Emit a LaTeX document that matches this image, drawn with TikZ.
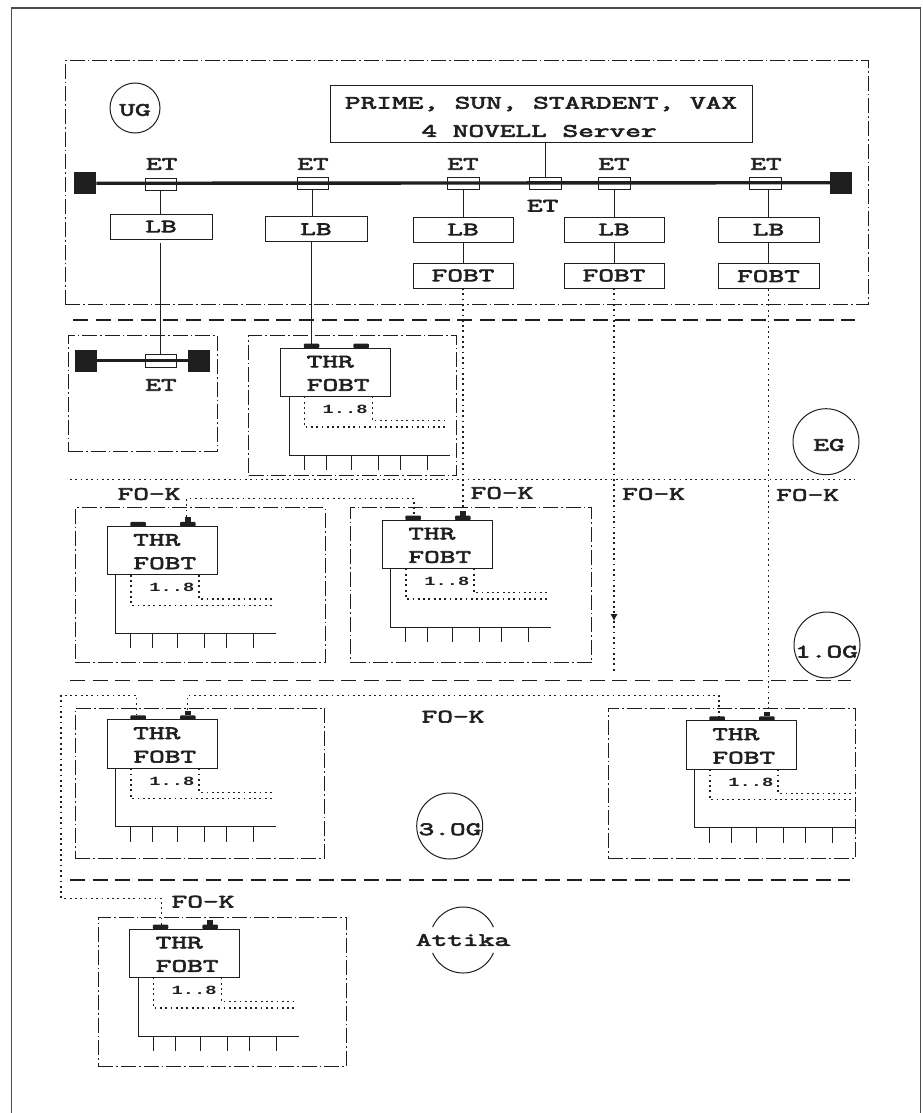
\documentclass[tikz,border=0pt]{standalone}
\usepackage{fontspec}
\usetikzlibrary{arrows.meta}
\newfontfamily\lblfont[FakeStretch=1.62,FakeBold=3.5]{Latin Modern Mono}
\newfontfamily\smlfont[FakeStretch=1.5]{Liberation Mono}
\definecolor{ink}{gray}{0.12}
\tikzset{
  x=1pt,y=-1pt,
  lbl/.style={inner sep=0pt,outer sep=0pt,text=ink,font=\lblfont\fontsize{18.8}{18.8}\selectfont},
  sml/.style={inner sep=0pt,outer sep=0pt,text=ink,font=\smlfont\bfseries\fontsize{12.5}{12.5}\selectfont},
  solid line/.style={draw=ink,line width=1pt},
  boxn/.style={draw=ink,line width=1pt,inner sep=0pt,outer sep=0pt,anchor=center,text=ink,font=\lblfont\fontsize{18.8}{18.8}\selectfont},
  dashdot/.style={draw=ink,line width=1pt,dash pattern=on 15pt off 3pt on 1.6pt off 3pt},
  dotline/.style={draw=ink,line width=1.2pt,dash pattern=on 1.8pt off 3.5pt},
  longdash/.style={draw=ink,line width=1.1pt,dash pattern=on 15pt off 7.6pt},
  termin/.style={fill=ink,draw=none,inner sep=0pt,outer sep=0pt,minimum width=22pt,minimum height=22pt},
  portn/.style={fill=ink,draw=none,rounded corners=1pt,inner sep=0pt,outer sep=0pt,minimum width=15.5pt,minimum height=4.6pt},
  nubn/.style={fill=ink,draw=none,inner sep=0pt,outer sep=0pt,minimum width=6.5pt,minimum height=4.5pt},
  ringn/.style={circle,draw=ink,line width=1pt,inner sep=0pt,outer sep=0pt},
  bus/.style={draw=ink,line width=3.4pt},
}
% name, x1, y1, x2, y2, text
\newcommand{\rectnode}[6]{%
  \pgfmathsetmacro{\rw}{#4-#2}\pgfmathsetmacro{\rh}{#5-#3}%
  \pgfmathsetmacro{\rx}{(#4+#2)/2}\pgfmathsetmacro{\ry}{(#5+#3)/2}%
  \node[boxn,minimum width=\rw pt,minimum height=\rh pt] (#1) at (\rx,\ry) {#6};}
% dash-dotted area: name, x1, y1, x2, y2
\newcommand{\areanode}[5]{%
  \pgfmathsetmacro{\rw}{#4-#2}\pgfmathsetmacro{\rh}{#5-#3}%
  \pgfmathsetmacro{\rx}{(#4+#2)/2}\pgfmathsetmacro{\ry}{(#5+#3)/2}%
  \node[dashdot,inner sep=0pt,outer sep=0pt,minimum width=\rw pt,minimum height=\rh pt] (#1) at (\rx,\ry) {};}
% THR/FOBT group: name, x0, y0
\newcommand{\thrgroup}[3]{%
  \begin{scope}[shift={(#2,#3)}]
    \node[boxn,minimum width=110pt,minimum height=48.5pt,anchor=north west] (#1) at (0,0) {};
    \node[lbl] (#1-t) at (49.5,13.7) {THR};
    \node[lbl] (#1-f) at (57.5,37) {FOBT};
    \node[sml] (#1-n) at (64.5,61.3) {1..8};
    \node[portn] (#1-p1) at (30.8,-2.1) {};
    \node[portn] (#1-p2) at (80.5,-2.1) {};
    \coordinate (#1-d1) at (23.6,79);
    \coordinate (#1-d1e) at (165.3,79);
    \coordinate (#1-d2) at (91.6,72.7);
    \coordinate (#1-d2e) at (165.3,72.7);
    \coordinate (#1-s) at (8.3,107);
    \coordinate (#1-se) at (169,107);
    \draw[dotline] (#1.south -| #1-d1) -- (#1-d1) -- (#1-d1e);
    \draw[dotline] (#1.south -| #1-d2) -- (#1-d2) -- (#1-d2e);
    \draw[solid line] (#1.south -| #1-s) -- (#1-s) -- (#1-se);
    \foreach \tx in {23.3,45.6,70.3,97.6,119.3,146.6}{\draw[solid line] (\tx,107) -- (\tx,122);}
  \end{scope}}
\newcommand{\addnub}[1]{\node[nubn,anchor=south] at (#1-p2.north) {};}
\begin{document}
\begin{tikzpicture}
\useasboundingbox (0,0) rectangle (922,1113);
% outer frame
\draw[draw=black!70,line width=1.5pt] (11.5,1113) -- (11.5,8) -- (920.5,8) -- (920.5,1113);

% areas
\areanode{aUG}{65}{61}{868.7}{304}
\areanode{aEGa}{68}{335.7}{217}{451}
\areanode{aEGb}{248.7}{335.7}{456.7}{475.7}
\areanode{aOGa}{75.3}{507.7}{325}{662.7}
\areanode{aOGb}{350.7}{507.7}{591.7}{662.5}
\areanode{aOGc}{75.3}{708.3}{324.7}{858}
\areanode{aOGd}{608}{708.7}{855.3}{858.3}
\areanode{aAT}{98.3}{917.3}{346.7}{1066}

% floor separators
\coordinate (s1a) at (73,320);   \coordinate (s1b) at (855,320);
\coordinate (s2a) at (70,479.3); \coordinate (s2b) at (855,479.3);
\coordinate (s3a) at (70,680.7); \coordinate (s3b) at (851,680.7);
\coordinate (s4a) at (70,880);   \coordinate (s4b) at (850,880);
\draw[longdash] (s1a) -- (s1b);
\draw[dotline] (s2a) -- (s2b);
\draw[longdash] (s3a) -- (s3b);
\draw[longdash] (s4a) -- (s4b);

% UG
\node[ringn,minimum size=50pt] (cUG) at (135,108) {};
\node[lbl] (tUG) at (135,110) {UG};
\rectnode{srv}{330}{86}{752}{142}{}
\node[lbl] (srv1) at (541,104) {PRIME, SUN, STARDENT, VAX};
\node[lbl] (srv2) at (539,131) {4 NOVELL Server};
\node[termin] (tl) at (85.3,183.3) {};
\node[termin] (tr) at (841,182.7) {};
\draw[bus] (tl) -- (tr);
\rectnode{et1}{145}{178}{176.5}{190}{}
\rectnode{et2}{297}{177.5}{328.5}{189.5}{}
\rectnode{et3}{447.5}{177}{479}{189}{}
\rectnode{ets}{529.5}{177}{561}{189}{}
\rectnode{et4}{598.5}{177}{630}{189}{}
\rectnode{et5}{749.5}{177.5}{781.5}{189}{}
\node[lbl] (let1) at (161.7,164) {ET};
\node[lbl] (let2) at (313,164) {ET};
\node[lbl] (let3) at (463,164) {ET};
\node[lbl] (lets) at (542.7,205.7) {ET};
\node[lbl] (let4) at (614,164) {ET};
\node[lbl] (let5) at (766,164) {ET};
\rectnode{lb1}{110}{214}{212}{239}{LB}
\rectnode{lb2}{265}{216.7}{367}{241.7}{LB}
\rectnode{lb3}{413}{217}{513}{242}{LB}
\rectnode{lb4}{564}{217}{664}{242}{LB}
\rectnode{lb5}{718}{217.3}{819}{242}{LB}
\rectnode{fb3}{413}{263}{513}{288}{FOBT}
\rectnode{fb4}{564}{263}{664}{288}{FOBT}
\rectnode{fb5}{718}{263.7}{819}{288.7}{FOBT}
\draw[solid line] (srv.south -| ets.north) -- (ets.north);
\draw[solid line] (et1.south) -- (et1.south |- lb1.north);
\draw[solid line] (et2.south) -- (et2.south |- lb2.north);
\draw[solid line] (et3.south) -- (et3.south |- lb3.north);
\draw[solid line] (et4.south) -- (et4.south |- lb4.north);
\draw[solid line] (lb5.north |- et5.south) -- (lb5.north);
\draw[solid line] (lb3.south) -- (fb3.north);
\draw[solid line] (lb4.south) -- (fb4.north);
\draw[solid line] (lb5.south) -- (fb5.north);

% EG, small segment
\node[termin] (te1) at (85.7,360.7) {};
\node[termin] (te2) at (199,360.7) {};
\draw[bus] (te1) -- (te2);
\rectnode{ete}{145.7}{354}{176.7}{367}{}
\node[lbl] (lete) at (161,385) {ET};

% THR groups
\thrgroup{gA}{280.7}{348}
\thrgroup{gB}{107.3}{526.3}
\thrgroup{gC}{382.3}{520}
\thrgroup{gD}{107.3}{719.7}
\thrgroup{gE}{686.3}{720.7}
\thrgroup{gF}{129.7}{929}
\addnub{gB}\addnub{gC}\addnub{gD}\addnub{gE}\addnub{gF}

% floor circles
\node[ringn,minimum size=66pt] (cEG) at (826,441.7) {};
\node[lbl] (tEG) at (829,445) {EG};
\node[ringn,minimum size=66pt] (cOG1) at (827,645) {};
\node[lbl] (tOG1) at (826.5,651.7) {1.OG};
\node[ringn,minimum size=66pt] (cOG3) at (449.7,826) {};
\node[lbl] (tOG3) at (450,829.3) {3.OG};
\node[lbl] (tAT) at (463,940) {Attika};
\draw[solid line] (tAT.center) ++(30.4,-12.9) arc[start angle=-23,end angle=-157,radius=33];
\draw[solid line] (tAT.center) ++(30.4,12.9) arc[start angle=23,end angle=157,radius=33];

% FO-K labels
\node[lbl] (fk1) at (149,494) {FO-K};
\node[lbl] (fk2) at (502,493) {FO-K};
\node[lbl] (fk3) at (653.5,494) {FO-K};
\node[lbl] (fk4) at (807.6,495) {FO-K};
\node[lbl] (fk5) at (453,716.7) {FO-K};
\node[lbl] (fk6) at (203,901.7) {FO-K};

% solid risers
\draw[solid line] (lb1.south) ++(-1,4) -- (160,354);
\draw[solid line] (lb2.south) ++(-4.3,0) -- (311.7,344);

% fibre runs
\draw[dotline] (fb3.south) -- (fb3.south |- gC-p2.north);
\coordinate (a4) at (614,621);
\coordinate (e4) at (614,672.7);
\draw[dotline,-{Latex[length=7pt,width=7.5pt]}] (fb4.south) -- (a4);
\draw[dotline] (a4) -- (e4);
\draw[dotline] (fb5.south) -- (fb5.south |- gE-p2.north);

\coordinate (r1) at (186.7,498.3);
\coordinate (r2) at (414,498.3);
\draw[dotline] (gB-p2.north -| r1) -- (r1) -- (r2) -- (gC-p1.north -| r2);

\coordinate (q1) at (187.3,695.3);
\coordinate (q2) at (719,695.3);
\draw[dotline] (gD-p2.north -| q1) -- (q1) -- (q2) -- (gE-p1.north -| q2);

\coordinate (v1) at (136.7,695.3);
\coordinate (v2) at (61,695.3);
\coordinate (v3) at (61,898.3);
\coordinate (v4) at (161.7,898.3);
\draw[dotline] (gD-p1.north -| v1) -- (v1) -- (v2) -- (v3) -- (v4) -- (gF-p1.north -| v4);
\end{tikzpicture}
\end{document}
